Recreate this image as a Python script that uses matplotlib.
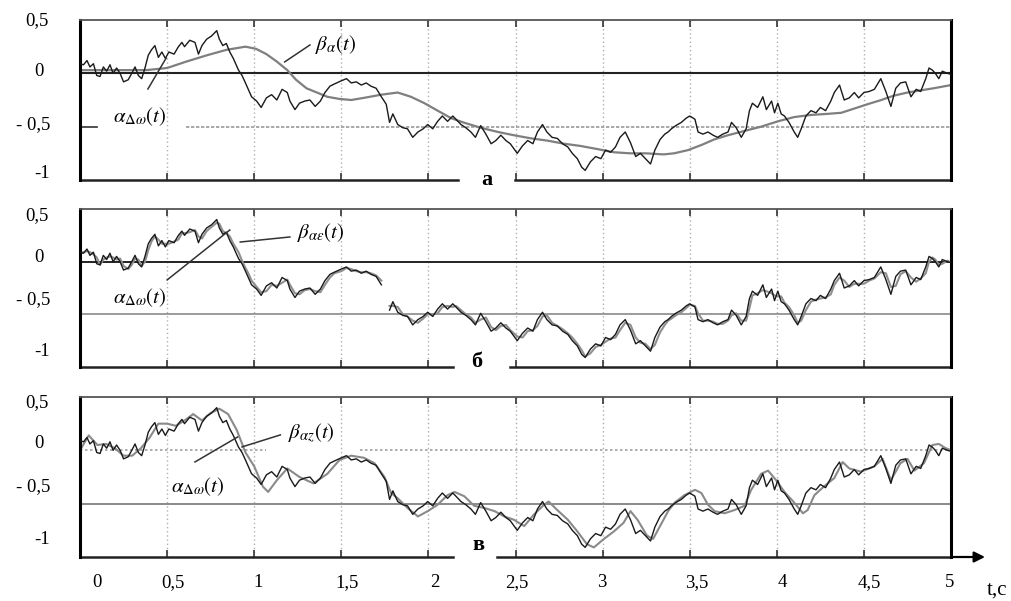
import numpy as np
import matplotlib
matplotlib.use("Agg")
import matplotlib.pyplot as plt
from matplotlib.transforms import ScaledTranslation

plt.rcParams['font.family'] = ['Liberation Serif', 'DejaVu Serif']
plt.rcParams['mathtext.fontset'] = 'stix'

# ---------------- data ----------------
alpha_t = [0, 0.02, 0.04, 0.057, 0.077, 0.096, 0.115, 0.134, 0.153, 0.172, 0.19, 0.21, 0.23, 0.25, 0.277,
           0.297, 0.316, 0.335, 0.354, 0.373, 0.392, 0.41, 0.43, 0.45, 0.47, 0.49, 0.51, 0.54, 0.565, 0.585,
           0.6, 0.63, 0.66, 0.68, 0.7, 0.727, 0.755, 0.785, 0.8, 0.82, 0.84, 0.86, 0.88, 0.91, 0.93, 0.947,
           0.966, 0.985, 1.014, 1.04, 1.07, 1.1, 1.13, 1.16, 1.19, 1.205, 1.234, 1.26, 1.29, 1.32, 1.35, 1.38,
           1.406, 1.435, 1.46, 1.5, 1.53, 1.557, 1.586, 1.615, 1.643, 1.67, 1.7, 1.73, 1.758, 1.777, 1.796,
           1.824, 1.853, 1.88, 1.91, 1.94, 1.97, 1.996, 2.025, 2.053, 2.08, 2.11, 2.14, 2.158, 2.187, 2.215,
           2.244, 2.27, 2.3, 2.33, 2.36, 2.387, 2.416, 2.445, 2.47, 2.51, 2.54, 2.57, 2.6, 2.626, 2.655, 2.68,
           2.71, 2.74, 2.77, 2.8, 2.826, 2.855, 2.88, 2.9, 2.93, 2.96, 2.99, 3.017, 3.046, 3.074, 3.1, 3.13,
           3.16, 3.19, 3.217, 3.246, 3.275, 3.3, 3.33, 3.357, 3.376, 3.395, 3.42, 3.452, 3.48, 3.5, 3.53, 3.548,
           3.576, 3.605, 3.634, 3.66, 3.69, 3.72, 3.74, 3.767, 3.796, 3.824, 3.843, 3.86, 3.89, 3.92, 3.94,
           3.97, 3.987, 4.006, 4.025, 4.044, 4.07, 4.1, 4.12, 4.14, 4.167, 4.196, 4.225, 4.25, 4.28, 4.31,
           4.33, 4.36, 4.387, 4.416, 4.445, 4.47, 4.5, 4.53, 4.56, 4.597, 4.626, 4.655, 4.683, 4.71, 4.74,
           4.77, 4.8, 4.826, 4.855, 4.874, 4.893, 4.91, 4.93, 4.95, 4.98, 5.0]

alpha_v = [0.09, 0.08, 0.12, 0.06, 0.09, -0.02, -0.03, 0.06, 0.02, 0.08, 0.0, 0.05, 0.0, -0.08, -0.06,
           0.0, 0.06, -0.02, -0.05, 0.05, 0.17, 0.22, 0.26, 0.15, 0.2, 0.14, 0.2, 0.18, 0.25, 0.29,
           0.25, 0.31, 0.29, 0.18, 0.26, 0.32, 0.35, 0.4, 0.32, 0.26, 0.28, 0.2, 0.14, 0.03, -0.02, -0.08,
           -0.15, -0.22, -0.26, -0.32, -0.23, -0.2, -0.25, -0.15, -0.18, -0.26, -0.34, -0.28, -0.26, -0.25, -0.31, -0.26,
           -0.18, -0.12, -0.1, -0.07, -0.05, -0.09, -0.08, -0.11, -0.09, -0.12, -0.14, -0.22, -0.29, -0.46, -0.38,
           -0.48, -0.51, -0.52, -0.6, -0.55, -0.52, -0.48, -0.52, -0.45, -0.4, -0.45, -0.4, -0.43, -0.48, -0.51,
           -0.55, -0.6, -0.49, -0.57, -0.66, -0.63, -0.58, -0.63, -0.66, -0.75, -0.68, -0.63, -0.66, -0.55, -0.48, -0.55,
           -0.6, -0.61, -0.66, -0.69, -0.75, -0.8, -0.88, -0.91, -0.83, -0.78, -0.8, -0.72, -0.74, -0.69, -0.6, -0.55,
           -0.65, -0.78, -0.75, -0.8, -0.85, -0.72, -0.62, -0.57, -0.55, -0.52, -0.49, -0.46, -0.42, -0.4, -0.43, -0.55,
           -0.57, -0.55, -0.58, -0.6, -0.57, -0.55, -0.46, -0.51, -0.6, -0.52, -0.35, -0.28, -0.32, -0.22, -0.34,
           -0.26, -0.37, -0.28, -0.38, -0.4, -0.46, -0.55, -0.6, -0.52, -0.4, -0.35, -0.37, -0.32, -0.35, -0.26,
           -0.18, -0.11, -0.25, -0.23, -0.18, -0.23, -0.18, -0.17, -0.15, -0.05, -0.17, -0.31, -0.14, -0.09, -0.08,
           -0.22, -0.15, -0.17, -0.05, 0.05, 0.03, 0.0, -0.05, 0.02, 0.0, -0.01]

# beta_ae (panel б), read on the same time grid as alpha
beta_ae_v = [0.08, 0.09, 0.10, 0.09, 0.07, 0.04, -0.03, 0.02, 0.04, 0.05, 0.04, 0.02, 0.03, -0.04, -0.07,
             -0.03, 0.03, 0.02, -0.04, 0.0, 0.11, 0.19, 0.24, 0.21, 0.17, 0.17, 0.17, 0.19, 0.21, 0.27,
             0.27, 0.28, 0.30, 0.24, 0.22, 0.29, 0.33, 0.37, 0.36, 0.29, 0.27, 0.24, 0.17, 0.09, 0.01, -0.05,
             -0.11, -0.18, -0.24, -0.29, -0.28, -0.22, -0.23, -0.2, -0.17, -0.22, -0.30, -0.31, -0.27, -0.26, -0.28, -0.29,
             -0.22, -0.15, -0.11, -0.09, -0.06, -0.07, -0.09, -0.10, -0.10, -0.11, -0.13, -0.18, -0.25, -0.42, -0.42,
             -0.43, -0.50, -0.52, -0.56, -0.58, -0.54, -0.50, -0.50, -0.49, -0.43, -0.42, -0.43, -0.42, -0.46, -0.50,
             -0.53, -0.58, -0.55, -0.53, -0.62, -0.65, -0.61, -0.60, -0.65, -0.71, -0.72, -0.66, -0.65, -0.61, -0.52, -0.51,
             -0.58, -0.61, -0.64, -0.68, -0.72, -0.78, -0.84, -0.90, -0.87, -0.81, -0.79, -0.76, -0.73, -0.72, -0.65, -0.58,
             -0.60, -0.72, -0.77, -0.78, -0.83, -0.79, -0.67, -0.60, -0.56, -0.54, -0.51, -0.48, -0.44, -0.41, -0.42, -0.49,
             -0.56, -0.56, -0.57, -0.59, -0.59, -0.56, -0.51, -0.49, -0.56, -0.56, -0.44, -0.32, -0.30, -0.27, -0.28,
             -0.30, -0.32, -0.33, -0.33, -0.39, -0.43, -0.51, -0.58, -0.56, -0.46, -0.38, -0.36, -0.35, -0.34, -0.31,
             -0.22, -0.15, -0.18, -0.24, -0.21, -0.21, -0.21, -0.18, -0.16, -0.10, -0.11, -0.24, -0.23, -0.12, -0.09,
             -0.15, -0.19, -0.16, -0.11, 0.0, 0.04, 0.02, -0.03, -0.02, 0.01, -0.01]

# beta_a (panel а)
beta_a_t = [0, 0.2, 0.38, 0.5, 0.61, 0.73, 0.84, 0.95, 1.01, 1.07, 1.13, 1.19, 1.24, 1.3, 1.36, 1.42, 1.49,
            1.557, 1.63, 1.73, 1.824, 1.9, 1.977, 2.053, 2.13, 2.2, 2.3, 2.4, 2.49, 2.59, 2.68, 2.78, 2.87,
            2.97, 3.065, 3.16, 3.25, 3.35, 3.41, 3.49, 3.57, 3.64, 3.72, 3.815, 3.91, 4.006, 4.1, 4.196, 4.29,
            4.37, 4.445, 4.52, 4.6, 4.67, 4.75, 4.826, 4.9, 5.0]
beta_a_v = [0.03, 0.03, 0.03, 0.05, 0.11, 0.17, 0.22, 0.25, 0.23, 0.18, 0.11, 0.03, -0.06, -0.14, -0.18, -0.22, -0.24,
            -0.25, -0.23, -0.2, -0.18, -0.22, -0.28, -0.35, -0.42, -0.46, -0.51, -0.55, -0.58, -0.61, -0.63, -0.66, -0.68,
            -0.71, -0.74, -0.75, -0.75, -0.76, -0.75, -0.72, -0.67, -0.62, -0.58, -0.54, -0.5, -0.45, -0.41, -0.39, -0.38,
            -0.37, -0.33, -0.29, -0.25, -0.21, -0.18, -0.16, -0.14, -0.11]

# beta_az (panel в)
beta_az_t = [0, 0.05, 0.1, 0.15, 0.2, 0.25, 0.3, 0.35, 0.4, 0.45, 0.5, 0.55, 0.6, 0.65, 0.7, 0.75, 0.8, 0.85,
             0.9, 0.95, 1.0, 1.05, 1.08, 1.13, 1.19, 1.26, 1.34, 1.42, 1.49, 1.557, 1.63, 1.69, 1.748, 1.786,
             1.824, 1.88, 1.94, 1.996, 2.053, 2.11, 2.15, 2.206, 2.263, 2.32, 2.38, 2.435, 2.49, 2.55, 2.607,
             2.664, 2.69, 2.74, 2.8, 2.855, 2.91, 2.95, 3.008, 3.065, 3.12, 3.16, 3.2, 3.255, 3.29, 3.33, 3.376,
             3.414, 3.47, 3.53, 3.567, 3.605, 3.643, 3.7, 3.757, 3.815, 3.853, 3.91, 3.95, 3.996, 4.044, 4.1,
             4.15, 4.177, 4.216, 4.27, 4.33, 4.378, 4.416, 4.483, 4.56, 4.607, 4.655, 4.71, 4.75, 4.79, 4.845,
             4.893, 4.93, 4.97, 5.0]
beta_az_v = [0.0, 0.14, 0.05, 0.06, 0.02, -0.05, -0.05, 0.02, 0.12, 0.25, 0.25, 0.23, 0.28, 0.34, 0.28, 0.35, 0.39, 0.34,
             0.19, -0.02, -0.15, -0.34, -0.39, -0.28, -0.17, -0.25, -0.31, -0.22, -0.09, -0.05, -0.07, -0.12, -0.25, -0.4,
             -0.45, -0.54, -0.62, -0.57, -0.51, -0.42, -0.39, -0.43, -0.52, -0.54, -0.57, -0.62, -0.65, -0.71, -0.6,
             -0.51, -0.48, -0.56, -0.65, -0.76, -0.88, -0.91, -0.83, -0.76, -0.68, -0.57, -0.65, -0.8, -0.83, -0.71, -0.57,
             -0.49, -0.42, -0.37, -0.4, -0.51, -0.57, -0.59, -0.56, -0.52, -0.37, -0.22, -0.19, -0.28, -0.39, -0.49,
             -0.59, -0.56, -0.42, -0.34, -0.26, -0.11, -0.17, -0.2, -0.15, -0.08, -0.28, -0.12, -0.08, -0.19, -0.12,
             0.05, 0.06, 0.02, 0.0]

x_ticks = [0, 0.5, 1, 1.5, 2, 2.5, 3, 3.5, 4, 4.5, 5]
x_tick_labels = ['0', '0,5', '1', '1,5', '2', '2,5', '3', '3,5', '4', '4,5', '5']
y_tick_labels = ['0,5', '0', '- 0,5', '-1']
panel_letters = ['а', 'б', 'в']
alpha_label = r'$\alpha_{\Delta\omega}(t)$'
beta_labels = [r'$\beta_{\alpha}(t)$', r'$\beta_{\alpha\varepsilon}(t)$', r'$\beta_{\alpha z}(t)$']

# ---------------- figure ----------------
W, H = 1012, 601
fig = plt.figure(figsize=(W / 100, H / 100), dpi=100)

def rect(left, top, right, bottom):
    return [left / W, 1 - bottom / H, (right - left) / W, (bottom - top) / H]

ax_a = fig.add_axes(rect(80, 20, 951, 180))
ax_b = fig.add_axes(rect(80, 209, 951, 367))
ax_c = fig.add_axes(rect(80, 397, 951, 557))
axes = [ax_a, ax_b, ax_c]

at = np.array(alpha_t)
av = np.array(alpha_v, dtype=float)

for ax in axes:
    ax.set_xlim(0, 5)
    ax.set_ylim(-1, 0.5)
    ax.set_yticks([])
    ax.spines['left'].set_linewidth(2.2)
    ax.spines['right'].set_linewidth(2.2)
    ax.spines['top'].set_color('#555555')
    ax.spines['top'].set_linewidth(1.3)
    ax.spines['bottom'].set_visible(False)
    ax.set_xticks(x_ticks[1:-1])
    ax.tick_params(axis='x', direction='in', length=5, width=1.2, color='#333333',
                   top=True, bottom=True, labelbottom=False)
    for xv in x_ticks[1:-1]:
        ax.axvline(xv, color='#b0b0b0', lw=1.0, ls=(0, (1, 2)), zorder=0)

# bottom borders with gaps for the panel letters
gaps = [(0.434, 0.499), (0.428, 0.494), (0.428, 0.479)]
for ax, (g0, g1) in zip(axes, gaps):
    ax.plot([0, g0], [0, 0], color='#222222', lw=1.8, transform=ax.transAxes, clip_on=False)
    ax.plot([g1, 1], [0, 0], color='#222222', lw=1.8, transform=ax.transAxes, clip_on=False)

# horizontal reference lines
ax_a.axhline(0, color='#222222', lw=1.5)
ax_a.plot([0.61, 5], [-0.5, -0.5], color='#9a9a9a', lw=1.2, ls=(0, (2, 1)))
ax_a.plot([0, 0.1], [-0.5, -0.5], color='#333333', lw=1.2)
ax_b.axhline(0, color='#222222', lw=1.4)
ax_b.axhline(-0.5, color='#8a8a8a', lw=1.2)
ax_c.plot([0, 1.07], [0, 0], color='#a0a0a0', lw=1.2, ls=(0, (1.5, 1.5)))
ax_c.plot([1.61, 5], [0, 0], color='#a0a0a0', lw=1.2, ls=(0, (1.5, 1.5)))
ax_c.axhline(-0.5, color='#8a8a8a', lw=1.4)

# panel а
ax_a.plot(beta_a_t, beta_a_v, color='#7f7f7f', lw=1.6, zorder=2)
ax_a.plot(at, av, color='#1a1a1a', lw=1.0, zorder=3)

# panel б (gap in the record around 1.76 s)
gap = (at > 1.745) & (at < 1.775)
av_b = np.where(gap, np.nan, av)
bv_b = np.where(gap, np.nan, np.array(beta_ae_v, dtype=float))
ax_b.plot(at, bv_b, color='#8f8f8f', lw=1.5, zorder=2)
ax_b.plot(at, av_b, color='#1a1a1a', lw=1.0, zorder=3)

# panel в
ax_c.plot(beta_az_t, beta_az_v, color='#8a8a8a', lw=1.5, zorder=2)
ax_c.plot(at, av, color='#1a1a1a', lw=1.0, zorder=3)

# x tick labels on bottom panel
ax_c.tick_params(axis='x', labelbottom=True, labelsize=13.5, pad=12)
ax_c.set_xticks(x_ticks)
ax_c.set_xticklabels(x_tick_labels)
ax_c.tick_params(axis='x', which='both', length=5)
dx_px = [17, 6, 4, 6, 6, 1, -1, 7, 6, 5, -1]
for lab, dx in zip(ax_c.get_xticklabels(), dx_px):
    lab.set_transform(lab.get_transform() + ScaledTranslation(dx / 100, 0, fig.dpi_scale_trans))

# arrow of the time axis
ax_c.annotate('', xy=((985 - 80) / 871, 0), xytext=(1.0, 0), xycoords='axes fraction',
              arrowprops=dict(arrowstyle='-|>', color='black', lw=1.6, mutation_scale=16,
                              shrinkA=0, shrinkB=0), annotation_clip=False)
fig.text(997 / W, 1 - 590 / H, 't,c', fontsize=15, ha='center', va='center')

# y labels (as drawn in the original, slightly offset per panel)
ylab_x = [37, 39, 33, 42]
ylab_y = [[21, 71, 125, 174], [216, 257, 300, 351], [403, 443, 487, 539]]
for ys in ylab_y:
    for txt, xp, yp in zip(y_tick_labels, ylab_x, ys):
        fig.text(xp / W, 1 - yp / H, txt, fontsize=13.5, ha='center', va='center')

# panel letters
letter_pos = [(0.467, 0.0), (0.456, 0.03), (0.457, 0.075)]
for ax, letter, (lx, ly) in zip(axes, panel_letters, letter_pos):
    ax.text(lx, ly, letter, transform=ax.transAxes, fontsize=16, fontweight='bold',
            ha='center', va='center', zorder=5)

# annotations
ann = [
    # (ax, beta text pos, beta leader, alpha text pos, alpha leader)
    (ax_a, (0.293, 0.844), ((0.235, 0.738), (0.264, 0.844)), (0.069, 0.394), ((0.078, 0.569), (0.099, 0.763))),
    (ax_b, (0.276, 0.854), ((0.184, 0.791), (0.241, 0.823)), (0.069, 0.437), ((0.100, 0.551), (0.172, 0.867))),
    (ax_c, (0.266, 0.775), ((0.186, 0.688), (0.230, 0.763)), (0.135, 0.4375), ((0.132, 0.594), (0.181, 0.75))),
]
for (ax, bpos, bl, apos, al), blab in zip(ann, beta_labels):
    ax.text(*bpos, blab, transform=ax.transAxes, fontsize=15, ha='center', va='center', zorder=6)
    ax.plot([bl[0][0], bl[1][0]], [bl[0][1], bl[1][1]], color='#333333', lw=1.1,
            transform=ax.transAxes, zorder=6)
    ax.text(*apos, alpha_label, transform=ax.transAxes, fontsize=15, ha='center', va='center', zorder=6)
    ax.plot([al[0][0], al[1][0]], [al[0][1], al[1][1]], color='#333333', lw=1.1,
            transform=ax.transAxes, zorder=6)

fig.savefig('out.png', dpi=100)
